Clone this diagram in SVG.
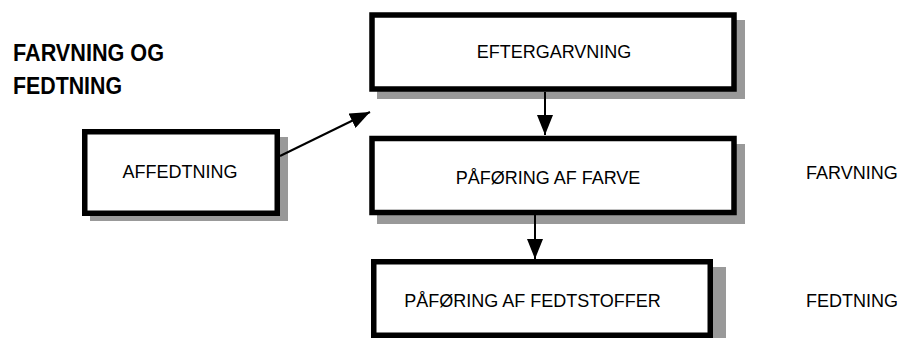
<svg xmlns="http://www.w3.org/2000/svg" width="912" height="338" viewBox="0 0 912 338">
  <style>
    .box { fill: #ffffff; stroke: #000000; stroke-width: 5.5; }
    .shadow { fill: #999999; }
    .label { font-family: "Liberation Sans", Arial, sans-serif; font-size: 18px; fill: #000000; }
    .title { font-family: "Liberation Sans", Arial, sans-serif; font-size: 24px; font-weight: bold; fill: #000000; }
    .conn { stroke: #000000; stroke-width: 2; fill: none; }
  </style>
  <defs>
    <marker id="arrow" viewBox="0 0 20 16" refX="20" refY="8" markerWidth="20" markerHeight="16" markerUnits="userSpaceOnUse" orient="auto">
      <path d="M0,0 L20,8 L0,16 Z" fill="#000000"/>
    </marker>
  </defs>

  <rect width="912" height="338" fill="#ffffff"/>

  <!-- heading -->
  <g id="heading">
    <text class="title" x="13" y="61" textLength="151" lengthAdjust="spacingAndGlyphs">FARVNING OG</text>
    <text class="title" x="13" y="94" textLength="109" lengthAdjust="spacingAndGlyphs">FEDTNING</text>
  </g>

  <!-- process steps -->
  <g id="eftergarvning">
    <rect class="shadow" x="377" y="20" width="368" height="79"/>
    <rect class="box" x="372" y="15" width="362" height="74"/>
    <text class="label" x="554" y="58" text-anchor="middle">EFTERGARVNING</text>
  </g>

  <g id="affedtning">
    <rect class="shadow" x="90" y="137" width="198" height="84"/>
    <rect class="box" x="84.75" y="131.75" width="192.5" height="81.5"/>
    <text class="label" x="180" y="178" text-anchor="middle">AFFEDTNING</text>
  </g>

  <g id="farve">
    <rect class="shadow" x="377" y="144" width="368" height="80"/>
    <rect class="box" x="372" y="138.5" width="362" height="74"/>
    <text class="label" x="548" y="184" text-anchor="middle">PÅFØRING AF FARVE</text>
  </g>

  <g id="fedtstoffer">
    <rect class="shadow" x="384" y="267" width="342" height="80"/>
    <rect class="box" x="373.75" y="261.75" width="336.5" height="73.5"/>
    <text class="label" x="532.5" y="307" text-anchor="middle">PÅFØRING AF FEDTSTOFFER</text>
  </g>

  <!-- stage labels -->
  <g id="stage-farvning">
    <text class="label" x="806" y="179">FARVNING</text>
  </g>
  <g id="stage-fedtning">
    <text class="label" x="806" y="307">FEDTNING</text>
  </g>

  <!-- connectors -->
  <g id="connectors">
    <line class="conn" x1="545" y1="92" x2="545" y2="135" marker-end="url(#arrow)"/>
    <line class="conn" x1="535" y1="215" x2="535" y2="259" marker-end="url(#arrow)"/>
    <line class="conn" x1="280" y1="156" x2="370" y2="112" marker-end="url(#arrow)"/>
  </g>
</svg>
